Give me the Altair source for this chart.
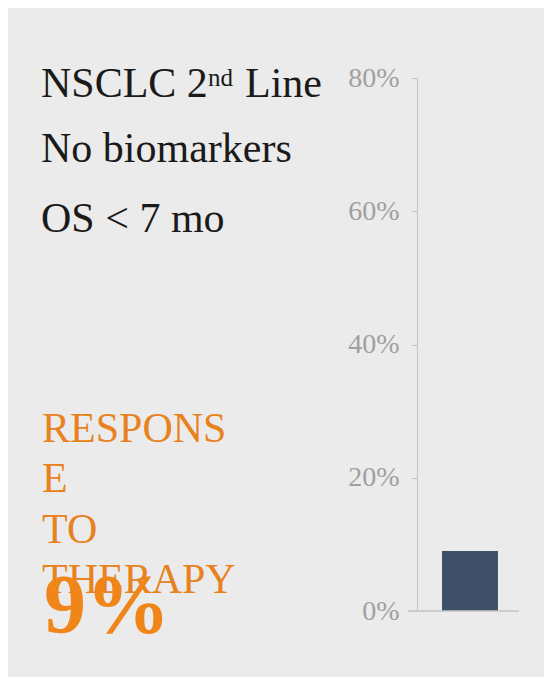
import altair as alt
import pandas as pd

# ---- data ----
categories = ["Response to therapy"]
values = [0.09]
y_ticks = [0, 0.2, 0.4, 0.6, 0.8]

title_main = "NSCLC 2"
title_sup = "nd"
title_rest = "Line"
subtitle_lines = ["No biomarkers", "OS < 7 mo"]
response_lines = ["RESPONS", "E", "TO", "THERAPY"]
big_value = "9%"

df = pd.DataFrame({"cat": categories, "val": values})

SERIF = "Liberation Serif"
ORANGE = "#E8821E"
BAR = "#415069"
AXISC = "#c4c4c4"

base = alt.Chart(df)

bars = base.mark_bar(color=BAR).encode(
    x=alt.X("cat:N", axis=None,
            scale=alt.Scale(paddingInner=0.309, paddingOuter=0.309)),
    y=alt.Y("val:Q",
            scale=alt.Scale(domain=[0, 0.8], nice=False),
            axis=alt.Axis(values=y_ticks, format=".0%", title=None, grid=False,
                          labelFont=SERIF, labelFontSize=28, labelColor="#a0a0a0",
                          tickColor=AXISC, tickSize=6, domainColor=AXISC,
                          labelPadding=12)),
)

baseline = base.mark_rule(color=AXISC, strokeWidth=1.5).encode(
    x=alt.value(-9), x2=alt.value(102), y=alt.datum(0, type="quantitative")
)

def txt(s, x, y, size, color, weight="normal"):
    return alt.Chart(pd.DataFrame({"t": [s]})).mark_text(
        align="left", baseline="alphabetic", font=SERIF, fontSize=size,
        color=color, fontWeight=weight
    ).encode(text="t:N", x=alt.value(x), y=alt.value(y))

X0 = -376
layers = [bars, baseline,
          txt(title_main, X0, 19, 42, "#1a1a1a"),
          txt(title_sup, -209, 8, 25, "#1a1a1a"),
          txt(title_rest, -172, 19, 42, "#1a1a1a")]
for i, s in enumerate(subtitle_lines):
    layers.append(txt(s, X0, 84 + i * 70, 42, "#1a1a1a"))
resp_y = [364, 414, 465, 515]
for s, yy in zip(response_lines, resp_y):
    layers.append(txt(s, X0 + 1, yy, 42, ORANGE))
layers.append(txt(big_value, X0 + 3, 555, 84, "#F0861A", "bold"))

chart = alt.layer(*layers).properties(
    width=106, height=533,
    background="#ebebeb",
    padding={"left": 409, "top": 70, "right": 21, "bottom": 66},
    autosize=alt.AutoSizeParams(type="none"),
).configure_view(stroke=None).configure_axis(labelFont=SERIF)

chart.save("out.html", embed_options={"renderer": "svg", "actions": False})
